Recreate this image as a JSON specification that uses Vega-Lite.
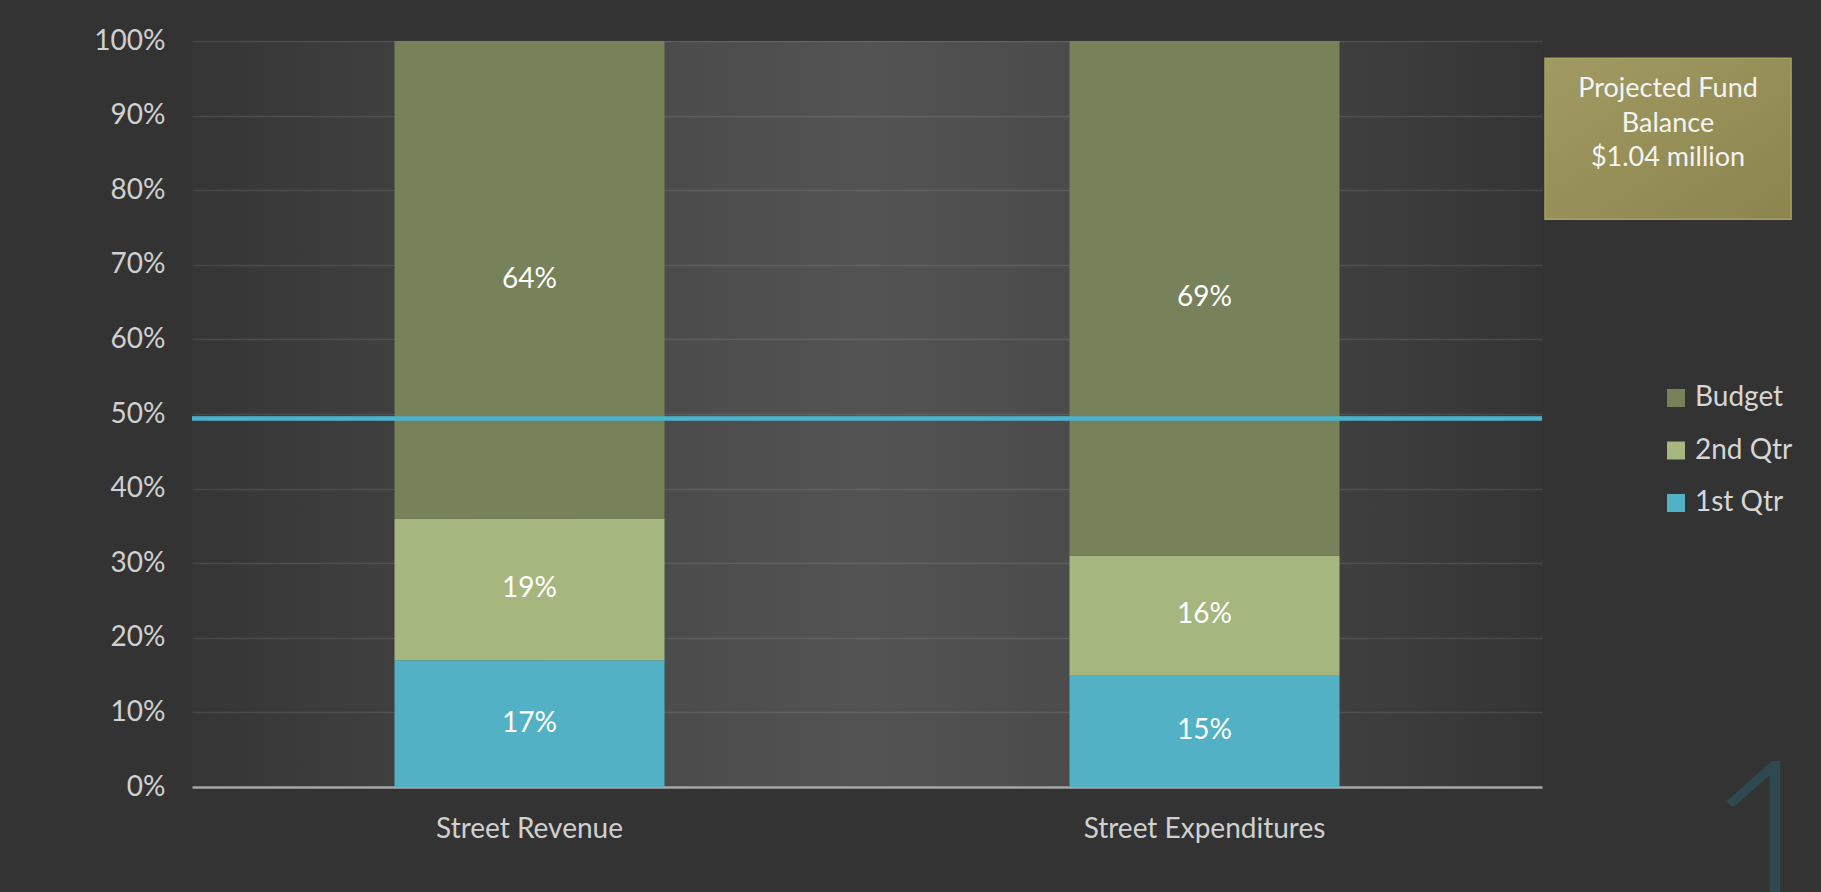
{
  "$schema": "https://vega.github.io/schema/vega-lite/v6.json",
  "background": "#333333",
  "padding": {"left": 42, "top": 27, "right": 0, "bottom": 0},
  "spacing": 0,
  "config": {"font": "Lato", "view": {"stroke": null}},
  "hconcat": [
    {
      "width": 1350,
      "height": 746,
      "view": {
        "stroke": null,
        "fill": {
          "gradient": "linear", "x1": 0, "y1": 0, "x2": 1, "y2": 0,
          "stops": [
            {"offset": 0, "color": "#353535"},
            {"offset": 0.25, "color": "#464646"},
            {"offset": 0.5, "color": "#535353"},
            {"offset": 0.75, "color": "#464646"},
            {"offset": 1, "color": "#343434"}
          ]
        }
      },
      "data": {
        "values": [
          {"category": "Street Revenue", "series": "1st Qtr", "value": 0.17},
          {"category": "Street Revenue", "series": "2nd Qtr", "value": 0.19},
          {"category": "Street Revenue", "series": "Budget", "value": 0.64},
          {"category": "Street Expenditures", "series": "1st Qtr", "value": 0.15},
          {"category": "Street Expenditures", "series": "2nd Qtr", "value": 0.16},
          {"category": "Street Expenditures", "series": "Budget", "value": 0.69}
        ]
      },
      "layer": [
        {
          "mark": {"type": "bar"},
          "encoding": {
            "x": {
              "field": "category", "type": "nominal",
              "sort": ["Street Revenue", "Street Expenditures"],
              "scale": {"paddingInner": 0.6, "paddingOuter": 0.3},
              "axis": {
                "title": null, "labelAngle": 0, "labelFontSize": 28, "labelColor": "#d0d0d0",
                "labelLimit": 0, "labelPadding": 28, "ticks": false, "tickSize": 0, "grid": false,
                "domain": true, "domainColor": "#a6a6a6", "domainWidth": 2.5
              }
            },
            "y": {
              "field": "value", "type": "quantitative", "stack": "zero",
              "scale": {"domain": [0, 1]},
              "axis": {
                "title": null, "values": [0, 0.1, 0.2, 0.3, 0.4, 0.5, 0.6, 0.7, 0.8, 0.9, 1],
                "format": ".0%", "labelFontSize": 28, "labelColor": "#d0d0d0", "labelPadding": 27,
                "ticks": false, "tickSize": 0, "domain": false, "grid": true,
                "gridColor": "#ffffff", "gridOpacity": 0.1, "gridWidth": 1.5,
                "minExtent": 150, "maxExtent": 150
              }
            },
            "color": {
              "field": "series", "type": "nominal",
              "scale": {"domain": ["Budget", "2nd Qtr", "1st Qtr"], "range": ["#77815a", "#a5b77e", "#52b1c5"]},
              "legend": {
                "title": null, "orient": "none", "legendX": 1470, "legendY": 343,
                "symbolType": "square", "symbolSize": 324, "symbolStrokeWidth": 0,
                "labelFontSize": 28, "labelColor": "#d6d6d6", "rowPadding": 24.5,
                "labelOffset": 5, "padding": 0, "labelLimit": 0
              }
            },
            "order": {"field": "series", "sort": "ascending"}
          }
        },
        {
          "mark": {"type": "text", "color": "#ffffff", "fontSize": 28},
          "encoding": {
            "x": {"field": "category", "type": "nominal", "sort": ["Street Revenue", "Street Expenditures"]},
            "y": {"field": "value", "type": "quantitative", "stack": "zero", "bandPosition": 0.5},
            "text": {"field": "value", "type": "quantitative", "format": ".0%"},
            "order": {"field": "series", "sort": "ascending"}
          }
        },
        {
          "mark": {"type": "rule", "color": "#4db1c8", "strokeWidth": 3.5},
          "encoding": {"y": {"datum": 0.494}}
        }
      ]
    },
    {
      "width": 279,
      "height": 746,
      "view": {"stroke": null},
      "data": {"values": [{"note": "Projected Fund\nBalance\n$1.04 million", "slide": "1"}]},
      "layer": [
        {
          "mark": {
            "type": "rect",
            "fill": {
              "gradient": "linear", "x1": 0, "y1": 0, "x2": 1, "y2": 1,
              "stops": [{"offset": 0, "color": "#a19b63"}, {"offset": 1, "color": "#8b844d"}]
            },
            "stroke": "#a8a060", "strokeWidth": 1.5
          },
          "encoding": {
            "x": {"datum": 0, "type": "quantitative", "scale": {"domain": [0, 1]}, "axis": null},
            "x2": {"datum": 0.882},
            "y": {"datum": 0.761, "type": "quantitative", "scale": {"domain": [0, 1]}, "axis": null},
            "y2": {"datum": 0.977}
          }
        },
        {
          "mark": {
            "type": "text", "fontSize": 27, "color": "#f4f4f4", "lineBreak": "\n",
            "lineHeight": 34.7, "baseline": "alphabetic", "align": "center"
          },
          "encoding": {
            "x": {"datum": 0.441, "type": "quantitative"},
            "y": {"datum": 0.925, "type": "quantitative"},
            "text": {"field": "note"}
          }
        },
        {
          "mark": {
            "type": "text", "fontSize": 220, "fontWeight": 300, "color": "#2e4a50",
            "baseline": "alphabetic", "align": "center"
          },
          "encoding": {
            "x": {"datum": 0.8, "type": "quantitative"},
            "y": {"datum": -0.174, "type": "quantitative"},
            "text": {"field": "slide"}
          }
        }
      ]
    }
  ]
}
